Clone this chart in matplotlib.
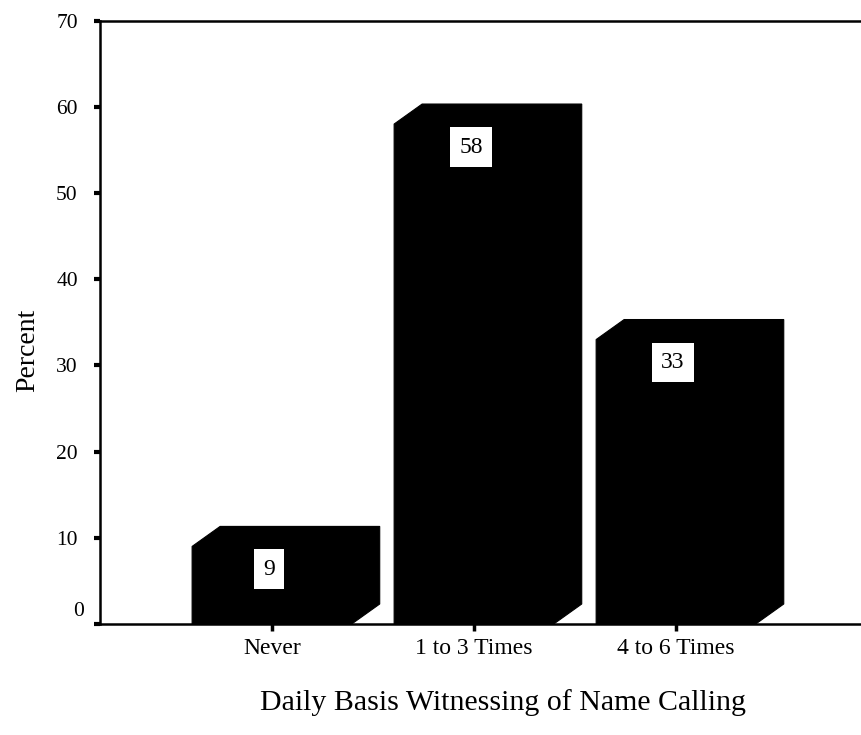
import matplotlib
matplotlib.use("Agg")
import matplotlib.pyplot as plt
from matplotlib.patches import Polygon
import numpy as np

categories = ["Never", "1 to 3 Times", "4 to 6 Times"]
percent = [9, 58, 33]
yticks = [0, 10, 20, 30, 40, 50, 60, 70]
xlabel = "Daily Basis Witnessing of Name Calling"
ylabel = "Percent"

plt.rcParams["font.family"] = ["Liberation Serif", "DejaVu Serif"]

W, H, DPI = 861, 735, 100
fig = plt.figure(figsize=(W / DPI, H / DPI), dpi=DPI)
ax = fig.add_axes([100 / W, (H - 624) / H, 761 / W, 603.4 / H])

xpos = np.arange(len(categories))
bar_w = 0.79
ax.set_xlim(-0.851, 2.916)
ax.set_ylim(0, 70)

# spines: left, bottom and top; no right
for side in ("left", "bottom", "top"):
    ax.spines[side].set_linewidth(1.8)
    ax.spines[side].set_color("black")
ax.spines["right"].set_visible(False)

# the zero label sits a little above its tick, so it is drawn separately
ax.set_yticks(yticks)
ax.set_yticklabels(["" if t == 0 else str(t) for t in yticks], fontsize=15.5)
ax.annotate(str(yticks[0]), xy=(0, yticks[0]), xycoords=("axes fraction", "data"),
            xytext=(-16, 12), textcoords="offset pixels", ha="right", va="center",
            fontsize=15.5)
ax.set_xticks(xpos)
ax.set_xticklabels(categories, fontsize=17)
ax.tick_params(axis="y", direction="out", length=4, width=3, pad=12)
ax.tick_params(axis="x", direction="out", length=5, width=2.5, pad=5)

# 3-D box bars: front face plus depth offset in pixels
depth_px = np.array([28.0, 20.0])
to_disp = ax.transData
to_data = ax.transData.inverted()
for x, v in zip(xpos, percent):
    x0, x1 = x - bar_w / 2, x + bar_w / 2
    front = to_disp.transform([(x0, 0), (x0, v), (x1, v), (x1, 0)])
    fbl, ftl, ftr, fbr = front
    verts_disp = [fbl, ftl, ftl + depth_px, ftr + depth_px, fbr + depth_px, fbr]
    verts = to_data.transform(verts_disp)
    ax.add_patch(Polygon(verts, closed=True, facecolor="black",
                         edgecolor="black", linewidth=0.8, zorder=2))
    ax.annotate(str(v), xy=(x, v), xytext=(-3, -23), textcoords="offset pixels",
                ha="center", va="center", fontsize=17, color="black", zorder=4,
                bbox=dict(boxstyle="square,pad=0.4", facecolor="white",
                          edgecolor="none"))

ax.set_ylabel(ylabel, fontsize=20)
ax.yaxis.set_label_coords((40 - 100) / 761, (624 - 350) / 603.4)
fig.text(503 / W, 1 - 703 / H, xlabel, ha="center", va="center", fontsize=21.5)

fig.savefig("out.png", dpi=DPI, facecolor="white")
